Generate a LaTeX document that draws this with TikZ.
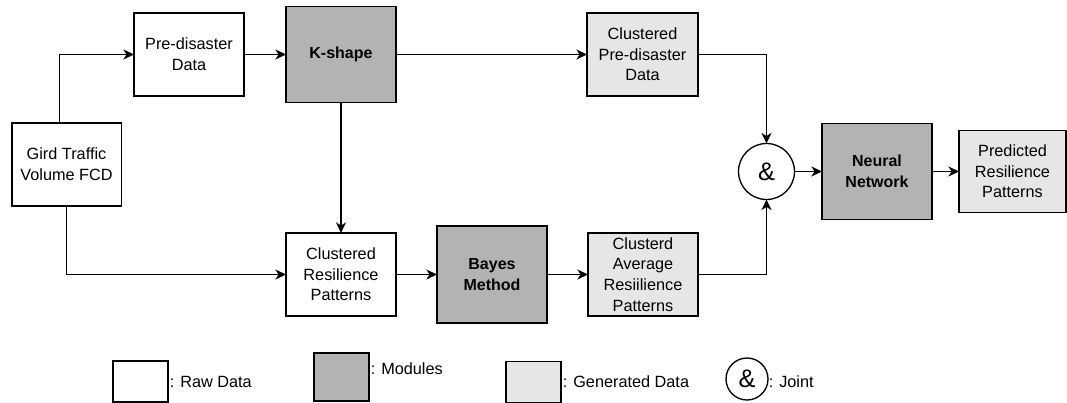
\documentclass[tikz,border=0pt]{standalone}
\usepackage{fontspec}
\setmainfont{Liberation Sans}
\usetikzlibrary{arrows.meta,positioning}
\definecolor{modgray}{HTML}{B3B3B3}
\definecolor{gengray}{HTML}{E6E6E6}
\tikzset{
  base/.style={draw=black, line width=1pt, inner sep=0pt, outer sep=0pt, align=center,
    font=\fontsize{12.2}{15.5}\selectfont},
  raw/.style={base, fill=white},
  module/.style={base, fill=modgray, font=\fontsize{12}{15.5}\selectfont\bfseries},
  gen/.style={base, fill=gengray},
  jointc/.style={base, circle, fill=white, font=\fontsize{19}{19}\selectfont},
  arr/.style={line width=1pt, -{Stealth[length=8pt,width=7.5pt,inset=2.5pt]}},
  legtext/.style={anchor=west, inner sep=0pt, font=\fontsize{12.2}{15.5}\selectfont},
}
\begin{document}
\begin{tikzpicture}[x=0.75pt,y=-0.75pt]
\useasboundingbox (0,0) rectangle (1067,403);
% main nodes
\node[raw, minimum width=82pt, minimum height=62.25pt] (gird) at (66.5,164.5) {Gird Traffic\\Volume FCD};
\node[raw, minimum width=82.5pt, minimum height=62.25pt] (pre) at (189,54.5) {Pre-disaster\\Data};
\node[module, minimum width=82.5pt, minimum height=72pt] (kshape) at (341,54.5) {K-shape};
\node[gen, minimum width=83.25pt, minimum height=62.25pt] (cpre) at (642.5,54.5) {Clustered\\Pre-disaster\\Data};
\node[jointc, minimum size=42pt] (joint) at (766.5,171.5) {\&};
\node[module, minimum width=82.5pt, minimum height=72pt] (nn) at (877,171.5) {Neural\\Network};
\node[gen, minimum width=80.25pt, minimum height=61.5pt] (pred) at (1012.5,171.5) {Predicted\\Resilience\\Patterns};
\node[raw, minimum width=82.5pt, minimum height=62.25pt] (cres) at (341,274.5) {Clustered\\Resilience\\Patterns};
\node[module, minimum width=82.5pt, minimum height=72.75pt] (bayes) at (492,274.5) {Bayes\\Method};
\node[gen, minimum width=82.5pt, minimum height=62.25pt] (cavg) at (643,274.5) {Clusterd\\Average\\Resiilience\\Patterns};
% connectors
\draw[arr] ([xshift=-5.25pt]gird.north) |- (pre.west);
\draw[arr] (gird.south) |- (cres.west);
\draw[arr] (pre.east) -- (kshape.west);
\draw[arr] (kshape.east) -- (cpre.west);
\draw[arr] (kshape.south) -- (cres.north);
\draw[arr] (cres.east) -- (bayes.west);
\draw[arr] (bayes.east) -- (cavg.west);
\draw[arr] (cpre.east) -| (joint.north);
\draw[arr] (cavg.east) -| (joint.south);
\draw[arr] (joint.east) -- (nn.west);
\draw[arr] (nn.east) -- (pred.west);
% legend
\node[raw, minimum width=41.25pt, minimum height=30.75pt] (lraw) at (140.5,381.5) {};
\node[legtext] (lrawt) at (169.5,382) {: Raw Data};
\node[module, minimum width=41.25pt, minimum height=36pt] (lmod) at (341.5,377) {};
\node[legtext] (lmodt) at (370.5,369) {: Modules};
\node[gen, minimum width=41.25pt, minimum height=30.75pt] (lgen) at (533.5,382) {};
\node[legtext] (lgent) at (562.5,382) {: Generated Data};
\node[jointc, minimum size=31.5pt] (ljoint) at (747,379) {\&};
\node[legtext] (ljointt) at (768.5,382) {: Joint};
\end{tikzpicture}
\end{document}
